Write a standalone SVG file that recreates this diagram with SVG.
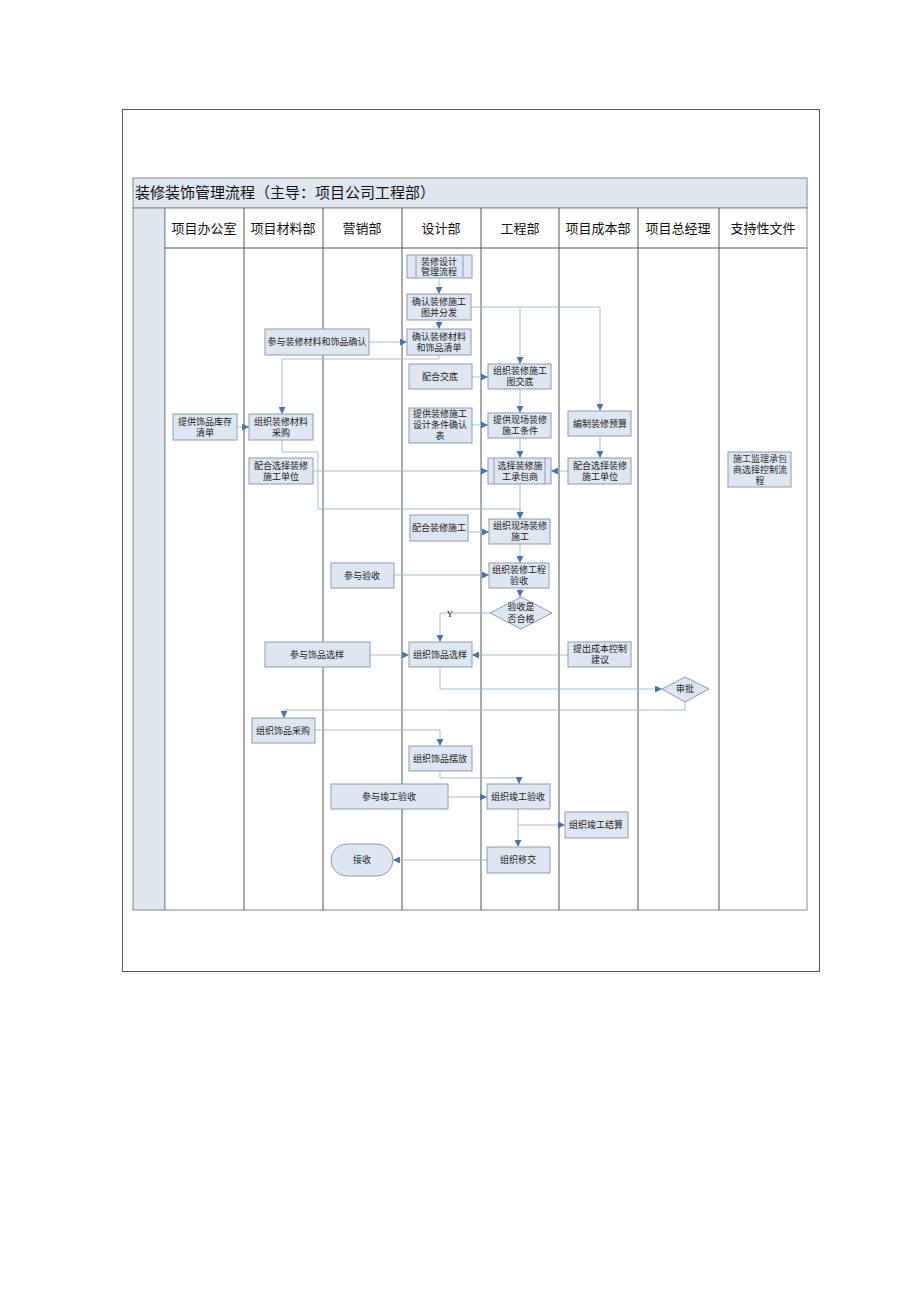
<svg xmlns="http://www.w3.org/2000/svg" width="920" height="1302" viewBox="0 0 920 1302">
<defs>
<style>
.n{fill:#dde6f1;stroke:#8d9cb3;stroke-width:1}
.t{font-family:"Liberation Serif","Noto Sans CJK SC",serif;font-size:9px;fill:#222;text-anchor:middle}
.h{font-family:"Liberation Serif","Noto Sans CJK SC",serif;font-size:13px;fill:#111;text-anchor:middle}
.c{fill:none;stroke:#a9bbd6;stroke-width:1}
.l{stroke:#555;stroke-width:1}
</style>
<marker id="a" viewBox="0 0 10 10" refX="10" refY="5" markerWidth="7" markerHeight="7" orient="auto"><path d="M0,0 L10,5 L0,10 z" fill="#4a74b0"/></marker>
</defs>
<rect width="920" height="1302" fill="#fff"/>
<rect x="122.5" y="109.5" width="697" height="862" fill="#fff" stroke="#555"/>
<g id="frame">
<rect x="133" y="178" width="674" height="30" fill="#dfe6f0" stroke="#888"/>
<text x="135" y="198" style="font-family:'Liberation Serif','Noto Sans CJK SC',serif;font-size:15px;fill:#111">装修装饰管理流程（主导：项目公司工程部）</text>
<rect x="133" y="208" width="32" height="702" fill="#dfe6f0" stroke="#888"/>
<rect x="165" y="208" width="642" height="702" fill="#fff" stroke="#888"/>
<line class="l" x1="165" y1="248" x2="807" y2="248"/>
<line class="l" x1="244" y1="208" x2="244" y2="910"/>
<line class="l" x1="323" y1="208" x2="323" y2="910"/>
<line class="l" x1="402" y1="208" x2="402" y2="910"/>
<line class="l" x1="481" y1="208" x2="481" y2="910"/>
<line class="l" x1="559" y1="208" x2="559" y2="910"/>
<line class="l" x1="638" y1="208" x2="638" y2="910"/>
<line class="l" x1="719" y1="208" x2="719" y2="910"/>
<text class="h" x="204" y="233">项目办公室</text>
<text class="h" x="283" y="233">项目材料部</text>
<text class="h" x="362" y="233">营销部</text>
<text class="h" x="441" y="233">设计部</text>
<text class="h" x="520" y="233">工程部</text>
<text class="h" x="598" y="233">项目成本部</text>
<text class="h" x="678" y="233">项目总经理</text>
<text class="h" x="763" y="233">支持性文件</text>
</g>
<g id="connectors" marker-end="url(#a)">
<path class="c" d="M439,278 V294"/>
<path class="c" d="M439,320 V329"/>
<path class="c" d="M471,307 H520 V364"/>
<path class="c" d="M520,307 H600 V411"/>
<path class="c" d="M369,342 H407"/>
<path class="c" d="M439,355 V359 H282 V414"/>
<path class="c" d="M472,377 H488"/>
<path class="c" d="M520,389 V413"/>
<path class="c" d="M237,427 H249"/>
<path class="c" d="M472,425 H488"/>
<path class="c" d="M520,438 V458"/>
<path class="c" d="M600,436 V458"/>
<path class="c" d="M568,471 H551"/>
<path class="c" d="M313,471 H488"/>
<path class="c" d="M282,440 V452 H318 V509 H520 V519"/>
<path class="c" d="M520,484 V519"/>
<path class="c" d="M468,532 H489"/>
<path class="c" d="M520,544 V563"/>
<path class="c" d="M394,575 H489"/>
<path class="c" d="M520,588 V597"/>
<path class="c" d="M490,613 H440 V642"/>
<path class="c" d="M370,655 H409"/>
<path class="c" d="M568,655 H472"/>
<path class="c" d="M440,667 V689 H662"/>
<path class="c" d="M685,702 V710 H284 V718"/>
<path class="c" d="M315,730 H440 V746"/>
<path class="c" d="M440,771 V778 H519 V784"/>
<path class="c" d="M448,797 H487"/>
<path class="c" d="M518,809 V847"/>
<path class="c" d="M518,825 H565"/>
<path class="c" d="M487,860 H393"/>
</g>
<text x="450" y="617" style="font-family:'Liberation Serif',serif;font-size:9px;fill:#222;text-anchor:middle">Y</text>
<g id="n1"><rect class="n" x="407" y="255" width="65" height="23"/><line class="l" x1="416" y1="255" x2="416" y2="278" style="stroke:#8d9cb3"/><line class="l" x1="463" y1="255" x2="463" y2="278" style="stroke:#8d9cb3"/><text class="t" x="439" y="265">装修设计</text><text class="t" x="439" y="275">管理流程</text></g>
<g id="n2"><rect class="n" x="407" y="294" width="64" height="26"/><text class="t" x="439" y="305">确认装修施工</text><text class="t" x="439" y="316">图并分发</text></g>
<g id="n3"><rect class="n" x="265" y="329" width="104" height="26"/><text class="t" x="317" y="345">参与装修材料和饰品确认</text></g>
<g id="n4"><rect class="n" x="407" y="329" width="64" height="26"/><text class="t" x="439" y="340">确认装修材料</text><text class="t" x="439" y="351">和饰品清单</text></g>
<g id="n5"><rect class="n" x="409" y="364" width="63" height="25"/><text class="t" x="440" y="380">配合交底</text></g>
<g id="n6"><rect class="n" x="488" y="364" width="63" height="25"/><text class="t" x="520" y="374">组织装修施工</text><text class="t" x="520" y="385">图交底</text></g>
<g id="n7"><rect class="n" x="173" y="414" width="64" height="26"/><text class="t" x="205" y="425">提供饰品库存</text><text class="t" x="205" y="436">清单</text></g>
<g id="n8"><rect class="n" x="249" y="414" width="64" height="26"/><text class="t" x="281" y="425">组织装修材料</text><text class="t" x="281" y="436">采购</text></g>
<g id="n9"><rect class="n" x="409" y="408" width="63" height="35"/><text class="t" x="440" y="417">提供装修施工</text><text class="t" x="440" y="428">设计条件确认</text><text class="t" x="440" y="439">表</text></g>
<g id="n10"><rect class="n" x="488" y="413" width="63" height="25"/><text class="t" x="520" y="423">提供现场装修</text><text class="t" x="520" y="434">施工条件</text></g>
<g id="n11"><rect class="n" x="568" y="411" width="63" height="25"/><text class="t" x="600" y="427">编制装修预算</text></g>
<g id="n12"><rect class="n" x="249" y="458" width="64" height="26"/><text class="t" x="281" y="469">配合选择装修</text><text class="t" x="281" y="480">施工单位</text></g>
<g id="n13"><rect class="n" x="488" y="458" width="63" height="26"/><line x1="494" y1="458" x2="494" y2="484" stroke="#8d9cb3"/><line x1="545" y1="458" x2="545" y2="484" stroke="#8d9cb3"/><text class="t" x="520" y="469">选择装修施</text><text class="t" x="520" y="480">工承包商</text></g>
<g id="n14"><rect class="n" x="568" y="458" width="63" height="26"/><text class="t" x="600" y="469">配合选择装修</text><text class="t" x="600" y="480">施工单位</text></g>
<g id="n15"><rect class="n" x="728" y="452" width="63" height="35"/><text class="t" x="760" y="462" style="fill:#333">施工监理承包</text><text class="t" x="760" y="473">商选择控制流</text><text class="t" x="760" y="484">程</text></g>
<g id="n16"><rect class="n" x="410" y="515" width="58" height="26"/><text class="t" x="439" y="531">配合装修施工</text></g>
<g id="n17"><rect class="n" x="489" y="519" width="61" height="25"/><text class="t" x="520" y="529">组织现场装修</text><text class="t" x="520" y="540">施工</text></g>
<g id="n18"><rect class="n" x="331" y="563" width="63" height="25"/><text class="t" x="362" y="579">参与验收</text></g>
<g id="n19"><rect class="n" x="489" y="563" width="60" height="25"/><text class="t" x="519" y="573">组织装修工程</text><text class="t" x="519" y="584">验收</text></g>
<g id="n20"><path class="n" d="M490,613 L521,597 L552,613 L521,629 Z"/><text class="t" x="521" y="610">验收是</text><text class="t" x="521" y="622">否合格</text></g>
<g id="n21"><rect class="n" x="265" y="642" width="105" height="25"/><text class="t" x="317" y="658">参与饰品选样</text></g>
<g id="n22"><rect class="n" x="409" y="642" width="63" height="25"/><text class="t" x="440" y="658">组织饰品选样</text></g>
<g id="n23"><rect class="n" x="568" y="642" width="63" height="25"/><text class="t" x="600" y="652">提出成本控制</text><text class="t" x="600" y="663">建议</text></g>
<g id="n24"><path class="n" d="M662,689 L685,677 L709,689 L685,702 Z"/><text class="t" x="685" y="692">审批</text></g>
<g id="n25"><rect class="n" x="252" y="718" width="63" height="25"/><text class="t" x="283" y="734">组织饰品采购</text></g>
<g id="n26"><rect class="n" x="409" y="746" width="63" height="25"/><text class="t" x="440" y="762">组织饰品摆放</text></g>
<g id="n27"><rect class="n" x="331" y="784" width="117" height="25"/><text class="t" x="389" y="800">参与竣工验收</text></g>
<g id="n28"><rect class="n" x="487" y="784" width="63" height="25"/><text class="t" x="518" y="800">组织竣工验收</text></g>
<g id="n29"><rect class="n" x="565" y="812" width="63" height="26"/><text class="t" x="596" y="828">组织竣工结算</text></g>
<g id="n30"><rect class="n" x="331" y="844" width="62" height="32" rx="16"/><text class="t" x="362" y="863">接收</text></g>
<g id="n31"><rect class="n" x="487" y="847" width="63" height="26"/><text class="t" x="518" y="863">组织移交</text></g>
</svg>
